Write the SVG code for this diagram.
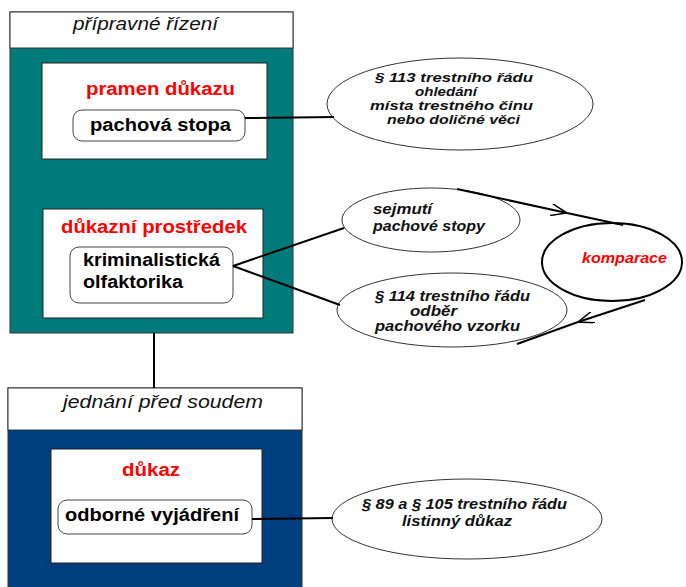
<svg xmlns="http://www.w3.org/2000/svg" width="686" height="587" viewBox="0 0 686 587">
<style>
.hdr{fill:#fff;stroke:#333;stroke-width:1}
.inner{fill:#fff;stroke:#222;stroke-width:1}
.rbox{fill:#fff;stroke:#444;stroke-width:1}
.ell{fill:#fff;stroke:#333;stroke-width:1}
.lbl{font-family:"Liberation Sans",Arial,sans-serif;font-weight:bold;font-size:18px;fill:#000}
.red{font-family:"Liberation Sans",Arial,sans-serif;font-weight:bold;font-size:18px;fill:#ff0000}
.hd{font-family:"Liberation Sans",Arial,sans-serif;font-style:italic;font-size:18px;fill:#111}
.et{font-family:"Liberation Sans",Arial,sans-serif;font-weight:bold;font-style:italic;font-size:14px;fill:#111}
.et13{font-size:12.5px}
.kom{font-family:"Liberation Sans",Arial,sans-serif;font-weight:bold;font-style:italic;font-size:15px;fill:#ff0000}
.con{fill:none;stroke:#000;stroke-width:2}
</style>
<defs>
<marker id="chev" viewBox="0 0 16 12" refX="16" refY="6" markerWidth="16" markerHeight="12" markerUnits="userSpaceOnUse" orient="auto">
<path d="M0,0 L16,6 L0,12" fill="none" stroke="#000" stroke-width="1.5"/>
</marker>
</defs>

<g id="pripravne">
<rect x="10" y="12" width="283" height="321" fill="#007b7b" stroke="#333" stroke-width="1"/>
<rect class="hdr" x="10" y="12" width="283" height="36"/>
<text class="hd" x="73" y="30" textLength="145" lengthAdjust="spacingAndGlyphs">přípravné řízení</text>
</g>

<g id="pramen">
<rect class="inner" x="42" y="63" width="225" height="96"/>
<text class="red" x="86" y="95" textLength="149" lengthAdjust="spacingAndGlyphs">pramen důkazu</text>
</g>

<g id="pachova-stopa">
<rect class="rbox" x="73" y="110" width="172" height="31" rx="9"/>
<text class="lbl" x="90" y="131" textLength="141" lengthAdjust="spacingAndGlyphs">pachová stopa</text>
</g>

<g id="prostredek">
<rect class="inner" x="43" y="209" width="220" height="109"/>
<text class="red" x="61" y="233" textLength="186" lengthAdjust="spacingAndGlyphs">důkazní prostředek</text>
</g>

<g id="olfaktorika">
<rect class="rbox" x="70" y="247" width="163" height="56" rx="9"/>
<text class="lbl" x="83" y="266" textLength="137" lengthAdjust="spacingAndGlyphs">kriminalistická</text>
<text class="lbl" x="83" y="288" textLength="100" lengthAdjust="spacingAndGlyphs">olfaktorika</text>
</g>

<g id="jednani">
<rect x="8" y="388" width="294" height="210" fill="#003e7e" stroke="#333" stroke-width="1"/>
<rect class="hdr" x="8" y="388" width="294" height="42"/>
<text class="hd" x="63" y="408" textLength="200" lengthAdjust="spacingAndGlyphs">jednání před soudem</text>
</g>

<g id="dukaz">
<rect class="inner" x="51" y="449" width="211" height="114"/>
<text class="red" x="122" y="476" textLength="58" lengthAdjust="spacingAndGlyphs">důkaz</text>
</g>

<g id="vyjadreni">
<rect class="rbox" x="58" y="500" width="194" height="34" rx="9"/>
<text class="lbl" x="65" y="521" textLength="174" lengthAdjust="spacingAndGlyphs">odborné vyjádření</text>
</g>

<g id="par113">
<ellipse class="ell" cx="460" cy="104" rx="133" ry="46"/>
<text class="et et13" x="375" y="82" textLength="158" lengthAdjust="spacingAndGlyphs">§ 113 trestního  řádu</text>
<text class="et et13" x="415" y="96" textLength="62" lengthAdjust="spacingAndGlyphs">ohledání</text>
<text class="et et13" x="370" y="110" textLength="163" lengthAdjust="spacingAndGlyphs">místa trestného činu</text>
<text class="et et13" x="387" y="124" textLength="133" lengthAdjust="spacingAndGlyphs">nebo doličné věci</text>
</g>

<g id="sejmuti">
<ellipse class="ell" cx="431" cy="220" rx="89" ry="32"/>
<text class="et" x="373" y="214" textLength="59" lengthAdjust="spacingAndGlyphs">sejmutí</text>
<text class="et" x="373" y="231" textLength="112" lengthAdjust="spacingAndGlyphs">pachové stopy</text>
</g>

<g id="par114">
<ellipse class="ell" cx="452" cy="310" rx="115" ry="37"/>
<text class="et" x="375" y="301" textLength="155" lengthAdjust="spacingAndGlyphs">§ 114 trestního řádu</text>
<text class="et" x="410" y="316" textLength="47" lengthAdjust="spacingAndGlyphs">odběr</text>
<text class="et" x="375" y="331" textLength="145" lengthAdjust="spacingAndGlyphs">pachového vzorku</text>
</g>

<g id="komparace">
<ellipse cx="612" cy="262" rx="70" ry="39" fill="#fff" stroke="#000" stroke-width="2"/>
<text class="kom" x="582" y="263" textLength="85" lengthAdjust="spacingAndGlyphs">komparace</text>
</g>

<g id="par89">
<ellipse class="ell" cx="467" cy="519" rx="135" ry="40"/>
<text class="et" x="362" y="509" textLength="205" lengthAdjust="spacingAndGlyphs">§ 89 a § 105 trestního řádu</text>
<text class="et" x="402" y="526" textLength="110" lengthAdjust="spacingAndGlyphs">listinný důkaz</text>
</g>

<g id="connectors">
<line class="con" x1="245" y1="118" x2="334" y2="117"/>
<line class="con" x1="154" y1="333" x2="154" y2="388"/>
<line class="con" x1="233" y1="266" x2="344" y2="228"/>
<line class="con" x1="233" y1="266" x2="340" y2="305"/>
<line class="con" x1="252" y1="519" x2="333" y2="518"/>
<path class="con" d="M457,189 L567,213" marker-end="url(#chev)"/>
<path class="con" d="M567,213 L623,225"/>
<path class="con" d="M645,300 L578,322" marker-end="url(#chev)"/>
<path class="con" d="M578,322 L517,344"/>
</g>
</svg>
